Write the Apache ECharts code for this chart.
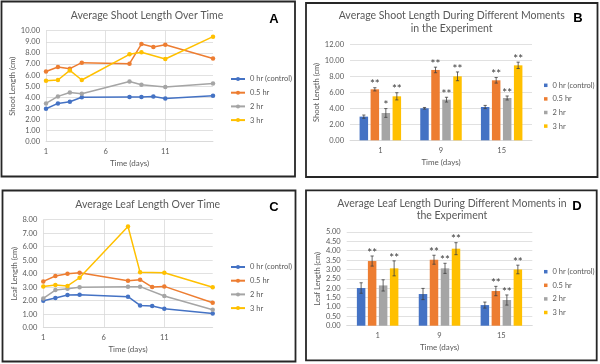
<!DOCTYPE html>
<html><head><meta charset="utf-8">
<script src="https://cdn.jsdelivr.net/npm/echarts@6/dist/echarts.min.js"></script>
<style>html,body{margin:0;padding:0;background:#fff;width:600px;height:364px;overflow:hidden}
.c{position:absolute;left:0;top:0;width:600px;height:364px}</style></head>
<body>
<div id="pa" class="c"></div><div id="pb" class="c"></div><div id="pc" class="c"></div><div id="pd" class="c"></div>
<script>
// ---------- DATA ----------
const seriesNames = ['0 hr (control)', '0.5 hr', '2 hr', '3 hr'];

// Panel A: shoot length over time
const shootDays0 = [1, 2, 3, 4, 8, 9, 10, 11, 15];
const shoot0 = [2.97, 3.45, 3.6, 4.0, 4.02, 4.02, 4.08, 3.9, 4.14];
const shootDays05 = [1, 2, 3, 4, 8, 9, 10, 11, 15];
const shoot05 = [6.33, 6.73, 6.58, 7.12, 7.03, 8.8, 8.53, 8.74, 7.5];
const shootDays2 = [1, 2, 3, 4, 8, 9, 11, 15];
const shoot2 = [3.45, 4.08, 4.44, 4.32, 5.43, 5.13, 4.92, 5.25];
const shootDays3 = [1, 2, 3, 4, 8, 9, 11, 15];
const shoot3 = [5.5, 5.56, 6.42, 5.56, 7.87, 8.05, 7.45, 9.46];

// Panel C: leaf length over time
const leafDays0 = [1, 2, 3, 4, 8, 9, 10, 11, 15];
const leaf0 = [2.0, 2.2, 2.42, 2.44, 2.3, 1.65, 1.6, 1.41, 1.06];
const leafDays05 = [1, 2, 3, 4, 8, 9, 10, 11, 15];
const leaf05 = [3.43, 3.83, 4.0, 4.07, 3.48, 3.56, 3.01, 3.06, 1.85];
const leafDays2 = [1, 2, 3, 4, 8, 9, 11, 15];
const leaf2 = [2.17, 2.79, 2.89, 2.99, 3.04, 3.04, 2.35, 1.33];
const leafDays3 = [1, 2, 3, 4, 8, 9, 11, 15];
const leaf3 = [3.06, 3.16, 3.09, 3.7, 7.5, 4.1, 4.07, 2.99];

// x tick labels of the line charts
const dayTicks = [1, 6, 11];

// Panels B & D: moments
const momentDays = ['1', '9', '15'];
const shootBar0 = [2.97, 4.02, 4.18];
const shootBar05 = [6.4, 8.83, 7.53];
const shootBar2 = [3.43, 5.1, 5.31];
const shootBar3 = [5.52, 8.03, 9.41];
const shootErr0 = [0.2, 0.1, 0.2];
const shootErr05 = [0.2, 0.35, 0.35];
const shootErr2 = [0.55, 0.3, 0.25];
const shootErr3 = [0.45, 0.55, 0.4];
const shootStars0 = ['', '', ''];
const shootStars05 = ['**', '**', '**'];
const shootStars2 = ['*', '**', '**'];
const shootStars3 = ['**', '**', '**'];

const leafBar0 = [2.01, 1.69, 1.1];
const leafBar05 = [3.45, 3.52, 1.85];
const leafBar2 = [2.15, 3.06, 1.37];
const leafBar3 = [3.06, 4.11, 3.0];
const leafErr0 = [0.28, 0.3, 0.16];
const leafErr05 = [0.27, 0.24, 0.25];
const leafErr2 = [0.3, 0.27, 0.27];
const leafErr3 = [0.4, 0.32, 0.23];
const leafStars0 = ['', '', ''];
const leafStars05 = ['**', '**', '**'];
const leafStars2 = ['', '**', '**'];
const leafStars3 = ['**', '**', '**'];

// ---------- STYLE ----------
const FONT = 'Lato';
const TXT = '#595959';
const GRIDC = '#D9D9D9';
const COLORS = ['#4472C4', '#ED7D31', '#A5A5A5', '#FFC000'];
const BAR_W = 8.5;
const BAR_STEP = 11;

function frameGraphic(f) {
  return {type: 'rect', shape: {x: f[0], y: f[1], width: f[2], height: f[3]},
    style: {fill: 'none', stroke: '#262626', lineWidth: 1.8}, silent: true};
}
function titleGraphic(t) {
  return {type: 'text', x: t.x, y: t.y, silent: true,
    style: {text: t.text, font: '10.5px ' + FONT, fill: TXT, align: 'center', verticalAlign: 'middle', lineHeight: 12.6}};
}
function letterGraphic(l) {
  return {type: 'text', x: l.x, y: l.y, silent: true,
    style: {text: l.text, font: 'bold 13px "Liberation Sans"', fill: '#000', align: 'center', verticalAlign: 'middle'}};
}
function yAxisCommon(c) {
  return {type: 'value', min: 0, max: c.ymax, interval: c.yint,
    name: c.yName, nameLocation: 'middle', nameGap: c.yNameGap,
    nameTextStyle: {fontFamily: FONT, fontSize: 7.5, color: TXT},
    axisLine: {show: false}, axisTick: {show: false},
    axisLabel: {fontFamily: FONT, fontSize: 7.5, color: TXT, margin: 6, formatter: v => v.toFixed(2)},
    splitLine: {lineStyle: {color: GRIDC, width: 0.8}}};
}

function lineOption(c) {
  return {
    backgroundColor: 'transparent', animation: false,
    grid: {left: c.grid[0], top: c.grid[1], width: c.grid[2], height: c.grid[3], outerBoundsMode: 'none'},
    legend: {left: c.legend[0], top: c.legend[1], orient: 'vertical', padding: 0, itemGap: 4.7,
      itemWidth: 14, itemHeight: 5, data: seriesNames,
      textStyle: {fontFamily: FONT, fontSize: 7.5, color: TXT, lineHeight: 9}},
    xAxis: {type: 'value', min: 1, max: 15, interval: 5,
      name: 'Time (days)', nameLocation: 'middle', nameGap: c.xNameGap,
      nameTextStyle: {fontFamily: FONT, fontSize: 8, color: TXT},
      axisLine: {show: true, lineStyle: {color: GRIDC, width: 0.8}},
      axisTick: {show: false, customValues: dayTicks},
      axisLabel: {fontFamily: FONT, fontSize: 7.5, color: TXT, margin: 6, customValues: dayTicks},
      splitLine: {show: true, customValues: dayTicks, lineStyle: {color: GRIDC, width: 0.8}}},
    yAxis: yAxisCommon(c),
    series: c.series.map((s, i) => ({
      type: 'line', name: seriesNames[i], data: s.x.map((d, k) => [d, s.y[k]]),
      symbol: 'circle', symbolSize: 4.5, showSymbol: true,
      lineStyle: {color: COLORS[i], width: 1.5}, itemStyle: {color: COLORS[i]}
    })),
    graphic: [frameGraphic(c.frame), titleGraphic(c.title), letterGraphic(c.letter)]
  };
}

function errorRender(idx, stars) {
  return function (params, api) {
    const cat = api.value(0), val = api.value(1), err = api.value(2);
    const star = stars[params.dataIndex];
    const hi = api.coord([cat, val + err]);
    const lo = api.coord([cat, val - err]);
    const x = hi[0] + (idx - 1.5) * BAR_STEP;
    const st = {stroke: '#404040', lineWidth: 0.8};
    const kids = [
      {type: 'line', shape: {x1: x, y1: lo[1], x2: x, y2: hi[1]}, style: st},
      {type: 'line', shape: {x1: x - 1.6, y1: lo[1], x2: x + 1.6, y2: lo[1]}, style: st},
      {type: 'line', shape: {x1: x - 1.6, y1: hi[1], x2: x + 1.6, y2: hi[1]}, style: st}
    ];
    if (star) kids.push({type: 'text', x: x, y: hi[1] + 3,
      style: {text: star, font: '11.5px ' + FONT, fill: '#3a3a3a', align: 'center', verticalAlign: 'bottom'}});
    return {type: 'group', children: kids};
  };
}

function barOption(c) {
  const series = [];
  c.bars.forEach((b, i) => {
    series.push({type: 'bar', name: seriesNames[i], data: b, barWidth: BAR_W, barGap: ((BAR_STEP - BAR_W) / BAR_W * 100) + '%',
      itemStyle: {color: COLORS[i]}});
  });
  c.bars.forEach((b, i) => {
    series.push({type: 'custom', name: 'err' + i, renderItem: errorRender(i, c.stars[i]),
      data: b.map((v, k) => [k, v, c.errs[i][k]]),
      encode: {x: 0, y: 1}, silent: true, z: 5});
  });
  return {
    backgroundColor: 'transparent', animation: false,
    grid: {left: c.grid[0], top: c.grid[1], width: c.grid[2], height: c.grid[3], outerBoundsMode: 'none'},
    legend: {left: c.legend[0], top: c.legend[1], orient: 'vertical', padding: 0, itemGap: 4.6,
      itemWidth: 3.5, itemHeight: 3.5, icon: 'rect', data: seriesNames,
      textStyle: {fontFamily: FONT, fontSize: 7.5, color: TXT, lineHeight: 9}},
    xAxis: {type: 'category', data: momentDays,
      name: 'Time (days)', nameLocation: 'middle', nameGap: c.xNameGap,
      nameTextStyle: {fontFamily: FONT, fontSize: 8, color: TXT},
      axisLine: {show: true, lineStyle: {color: GRIDC, width: 0.8}}, axisTick: {show: false},
      axisLabel: {fontFamily: FONT, fontSize: 7.5, color: TXT, margin: 6}},
    yAxis: yAxisCommon(c),
    series: series,
    graphic: [frameGraphic(c.frame), titleGraphic(c.title), letterGraphic(c.letter)]
  };
}

const chartA = echarts.init(document.getElementById('pa'), null, {renderer: 'canvas'});
chartA.setOption(lineOption({
  grid: [46, 30.7, 167, 111], ymax: 10, yint: 1, yName: 'Shoot Length (cm)', yNameGap: 26, xNameGap: 17.5,
  legend: [230, 74.5],
  series: [{x: shootDays0, y: shoot0}, {x: shootDays05, y: shoot05}, {x: shootDays2, y: shoot2}, {x: shootDays3, y: shoot3}],
  frame: [1.5, 1.5, 293.5, 175], title: {x: 147, y: 15.7, text: 'Average Shoot Length Over Time'},
  letter: {x: 274, y: 19, text: 'A'}
}));

const chartB = echarts.init(document.getElementById('pb'), null, {renderer: 'canvas'});
chartB.setOption(barOption({
  grid: [350, 44.7, 182, 95.6], ymax: 12, yint: 2, yName: 'Shoot Length (cm)', yNameGap: 26, xNameGap: 18,
  legend: [544, 80.8],
  bars: [shootBar0, shootBar05, shootBar2, shootBar3],
  errs: [shootErr0, shootErr05, shootErr2, shootErr3],
  stars: [shootStars0, shootStars05, shootStars2, shootStars3],
  frame: [306, 3, 291.5, 174], title: {x: 451.7, y: 22, text: 'Average Shoot Length During Different Moments\nin the Experiment'},
  letter: {x: 578, y: 18.5, text: 'B'}
}));

const chartC = echarts.init(document.getElementById('pc'), null, {renderer: 'canvas'});
chartC.setOption(lineOption({
  grid: [43.3, 219.7, 169.4, 108], ymax: 8, yint: 1, yName: 'Leaf Length (cm)', yNameGap: 22.5, xNameGap: 17.5,
  legend: [230, 262.5],
  series: [{x: leafDays0, y: leaf0}, {x: leafDays05, y: leaf05}, {x: leafDays2, y: leaf2}, {x: leafDays3, y: leaf3}],
  frame: [2.5, 190.5, 293, 171], title: {x: 147.7, y: 204.3, text: 'Average Leaf Length Over Time'},
  letter: {x: 274, y: 207, text: 'C'}
}));

const chartD = echarts.init(document.getElementById('pd'), null, {renderer: 'canvas'});
chartD.setOption(barOption({
  grid: [346.7, 232, 185.6, 93.7], ymax: 5, yint: 0.5, yName: 'Leaf Length (cm)', yNameGap: 22, xNameGap: 17.5,
  legend: [544, 267.2],
  bars: [leafBar0, leafBar05, leafBar2, leafBar3],
  errs: [leafErr0, leafErr05, leafErr2, leafErr3],
  stars: [leafStars0, leafStars05, leafStars2, leafStars3],
  frame: [306, 190.3, 290.7, 170], title: {x: 452, y: 209.5, text: 'Average Leaf Length During Different Moments in\nthe Experiment'},
  letter: {x: 577, y: 206, text: 'D'}
}));
</script>
</body></html>
